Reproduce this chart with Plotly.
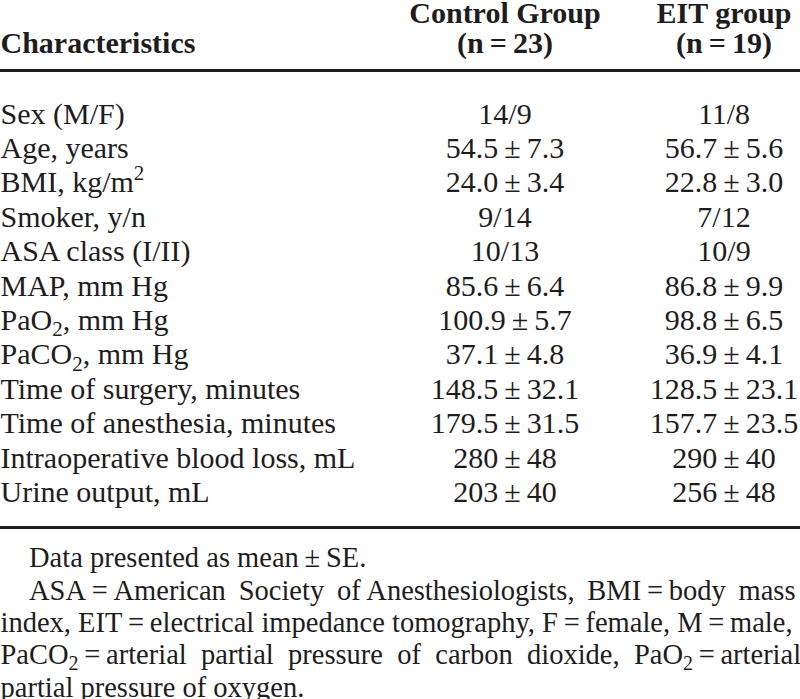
import plotly.graph_objects as go

# ---- data ----
characteristics = [
    "Sex (M/F)",
    "Age, years",
    "BMI, kg/m<sup>2</sup>",
    "Smoker, y/n",
    "ASA class (I/II)",
    "MAP, mm Hg",
    "PaO<sub>2</sub>, mm Hg",
    "PaCO<sub>2</sub>, mm Hg",
    "Time of surgery, minutes",
    "Time of anesthesia, minutes",
    "Intraoperative blood loss, mL",
    "Urine output, mL",
]
control_group = [
    "14/9", "54.5\u2009±\u20097.3", "24.0\u2009±\u20093.4", "9/14", "10/13",
    "85.6\u2009±\u20096.4", "100.9\u2009±\u20095.7", "37.1\u2009±\u20094.8",
    "148.5\u2009±\u200932.1", "179.5\u2009±\u200931.5", "280\u2009±\u200948", "203\u2009±\u200940",
]
eit_group = [
    "11/8", "56.7\u2009±\u20095.6", "22.8\u2009±\u20093.0", "7/12", "10/9",
    "86.8\u2009±\u20099.9", "98.8\u2009±\u20096.5", "36.9\u2009±\u20094.1",
    "128.5\u2009±\u200923.1", "157.7\u2009±\u200923.5", "290\u2009±\u200940", "256\u2009±\u200948",
]
header_labels = ["Characteristics", "Control Group", "(n\u2009=\u200923)", "EIT group", "(n\u2009=\u200919)"]
footnotes = [
    "\u2003Data presented as mean\u2009±\u2009SE.",
    "\u2003ASA\u2009=\u2009American \u2009Society \u2009of Anesthesiologists, \u2009BMI\u2009=\u2009body \u2009mass",
    "index, EIT\u2009=\u2009electrical impedance tomography, F\u2009=\u2009female, M\u2009=\u2009male,",
    "PaCO<sub>2</sub>\u2009=\u2009arterial  partial  pressure  of  carbon  dioxide,  PaO<sub>2</sub>\u2009=\u2009arterial",
    "partial pressure of oxygen.",
]

# ---- layout constants ----
W, H = 800, 699
FONT = "Liberation Serif, Times New Roman, serif"
FS = 30
FS_FOOT = 28.5
COLOR = "#1f1c1d"
x_label, x_ctrl, x_eit = 0.5, 505, 724
row_y0, row_dy = 116, 34.4
rows_y = [row_y0 + i * row_dy for i in range(len(characteristics))]
foot_y0, foot_dy = 560, 32.4
foot_y = [foot_y0 + i * foot_dy for i in range(len(footnotes))]

common = dict(mode="text", hoverinfo="skip", cliponaxis=False)
fig = go.Figure()
fig.add_trace(go.Scatter(x=[x_label] * len(characteristics), y=rows_y, text=characteristics,
                         textposition="middle right",
                         textfont=dict(family=FONT, size=FS, color=COLOR), **common))
fig.add_trace(go.Scatter(x=[x_ctrl] * len(control_group), y=rows_y, text=control_group,
                         textposition="middle center",
                         textfont=dict(family=FONT, size=FS, color=COLOR), **common))
fig.add_trace(go.Scatter(x=[x_eit] * len(eit_group), y=rows_y, text=eit_group,
                         textposition="middle center",
                         textfont=dict(family=FONT, size=FS, color=COLOR), **common))
# header
fig.add_trace(go.Scatter(x=[x_label, x_ctrl, x_ctrl, x_eit, x_eit],
                         y=[45, 15, 45, 15, 45],
                         text=["<b>%s</b>" % t for t in header_labels],
                         textposition=["middle right", "middle center", "middle center", "middle center", "middle center"],
                         textfont=dict(family=FONT, size=FS, color=COLOR), **common))
# footnotes
fig.add_trace(go.Scatter(x=[x_label] * len(footnotes), y=foot_y, text=footnotes,
                         textposition="middle right",
                         textfont=dict(family=FONT, size=FS_FOOT, color=COLOR), **common))

fig.add_shape(type="line", xref="x", yref="y", x0=0, x1=W, y0=70.5, y1=70.5,
              line=dict(color=COLOR, width=3))
fig.add_shape(type="line", xref="x", yref="y", x0=0, x1=W, y0=527.5, y1=527.5,
              line=dict(color=COLOR, width=3))

fig.update_layout(
    width=W, height=H, margin=dict(l=0, r=0, t=0, b=0),
    paper_bgcolor="white", plot_bgcolor="white", showlegend=False,
    xaxis=dict(range=[0, W], visible=False, fixedrange=True),
    yaxis=dict(range=[H, 0], visible=False, fixedrange=True),
)
fig.write_html("out.html", config={"displayModeBar": False},
               post_script="document.body.style.margin='0';document.body.style.overflow='hidden';")
